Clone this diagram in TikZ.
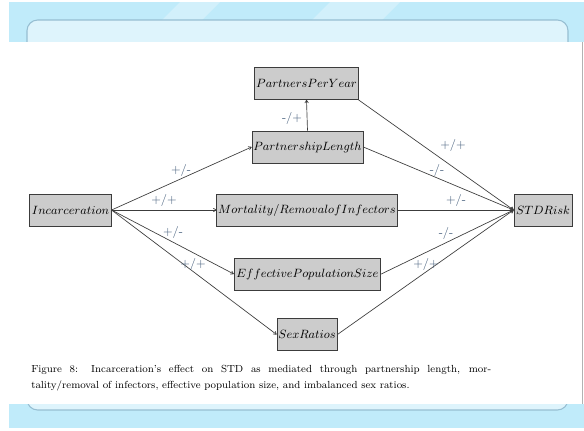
\documentclass[tikz,border=0pt]{standalone}
\usetikzlibrary{arrows.meta}
\definecolor{bandblue}{RGB}{192,235,250}
\definecolor{bandlight}{RGB}{222,244,252}
\definecolor{frameline}{RGB}{150,190,210}
\definecolor{boxfill}{RGB}{204,204,204}
\definecolor{boxline}{RGB}{60,60,60}
\definecolor{lblcol}{RGB}{70,95,125}
\tikzset{
  box/.style={draw=boxline, fill=boxfill, line width=0.6pt, inner xsep=1pt, inner ysep=0pt, minimum height=24pt, anchor=center, font=\fontsize{9}{11}\selectfont},
  conn/.style={draw=boxline, line width=0.5pt, -{To[length=2.5pt,width=3pt]}},
  lbl/.style={text=lblcol, font=\fontsize{9}{11}\selectfont, inner sep=0pt}
}
\begin{document}
\begin{tikzpicture}[x=0.75pt,y=-0.75pt]
\useasboundingbox (0,0) rectangle (584,430);
% background bands
\fill[white] (0,0) rectangle (584,430);
\fill[bandblue] (9,2) rectangle (584,42);
\fill[bandblue] (9,404) rectangle (584,428);
\fill[bandlight, opacity=0.6] (180,2) -- (220,2) -- (180,42) -- (140,42) -- cycle;
\fill[bandlight, opacity=0.6] (330,2) -- (400,2) -- (360,42) -- (290,42) -- cycle;
\draw[frameline, fill=bandlight, line width=0.8pt, rounded corners=8pt] (27,20) rectangle (568,410);
\fill[white] (0,42) rectangle (582,404);
\draw[gray!60, line width=0.4pt] (582,42) -- (582,404);
% nodes
\node[box, minimum width=77pt] (ppy) at (306.5,83.5) {$PartnersPerYear$};
\node[box, minimum width=83pt] (pl) at (307.5,147) {$PartnershipLength$};
\node[box, minimum width=61pt] (inc) at (70.5,210) {$Incarceration$};
\node[box, minimum width=135pt] (mort) at (307,210) {$Mortality/RemovalofInfectors$};
\node[box, minimum width=43.5pt] (std) at (543,210) {$STDRisk$};
\node[box, minimum width=110pt] (eps) at (307.5,274) {$EffectivePopulationSize$};
\node[box, minimum width=45pt] (sr) at (307,334.5) {$SexRatios$};
% connectors
\draw[conn] (inc.east) -- (pl.west);
\draw[conn] (inc.east) -- (mort.west);
\draw[conn] (inc.east) -- (eps.west);
\draw[conn] (inc.east) -- (sr.west);
\draw[conn] (pl.north) -- (ppy.south);
\draw[conn] (ppy.south east) -- (std.west);
\draw[conn] (pl.east) -- (std.west);
\draw[conn] (mort.east) -- (std.west);
\draw[conn] (eps.east) -- (std.west);
\draw[conn] (sr.east) -- (std.west);
% labels
\node[lbl] (l1) at (181,170) {+/-};
\node[lbl] (l2) at (164,200) {+/+};
\node[lbl] (l3) at (173,232) {+/-};
\node[lbl] (l4) at (193,264) {+/+};
\node[lbl] (l5) at (292,118) {-/+};
\node[lbl] (l6) at (453,145) {+/+};
\node[lbl] (l7) at (437,170) {-/-};
\node[lbl] (l8) at (456,200) {+/-};
\node[lbl] (l9) at (446,233) {-/-};
\node[lbl] (l10) at (426,264) {+/+};
% caption
\node[anchor=north west, inner sep=0pt] (cap) at (31,365) {\parbox{345pt}{\fontsize{7.7}{12}\selectfont\noindent Figure 8: Incarceration's effect on STD as mediated through partnership length, mor-\linebreak tality/removal of infectors, effective population size, and imbalanced sex ratios.}};
\end{tikzpicture}
\end{document}
